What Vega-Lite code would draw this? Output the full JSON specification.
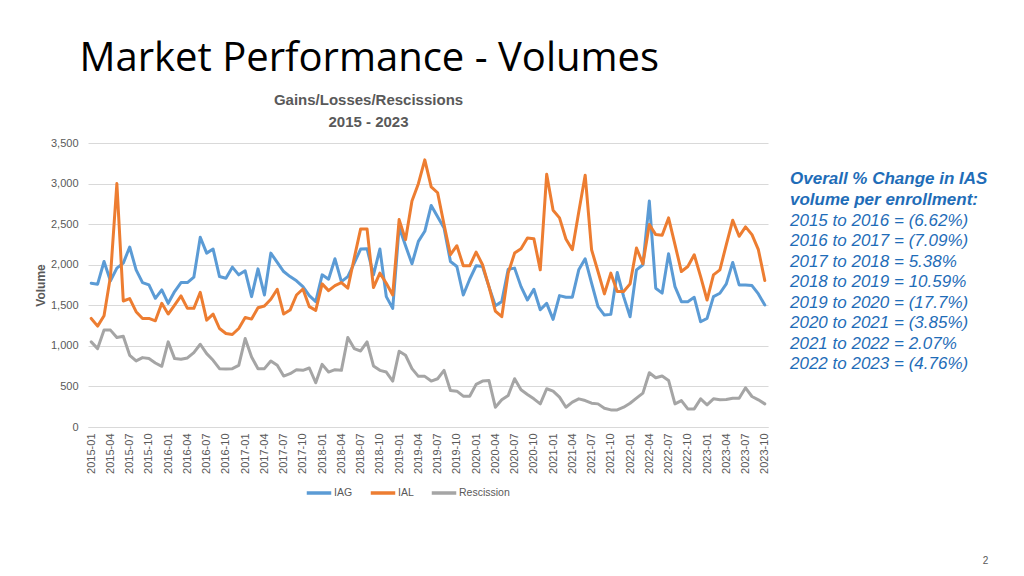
{
  "$schema": "https://vega.github.io/schema/vega-lite/v6.json",
  "autosize": {"type": "none"},
  "width": 680,
  "height": 284,
  "padding": {"left": 88, "top": 143, "right": 256, "bottom": 149},
  "background": "white",
  "config": {"view": {"stroke": null}, "font": "Liberation Sans"},
  "title": {
    "text": ["Overall % Change in IAS", "volume per enrollment:"],
    "subtitle": ["2015 to 2016 =  (6.62%)", "2016 to 2017 =  (7.09%)", "2017 to 2018 =  5.38%", "2018 to 2019  = 10.59%", "2019 to 2020 = (17.7%)", "2020 to 2021 = (3.85%)", "2021 to 2022 = 2.07%", "2022 to 2023 = (4.76%)"],
    "orient": "top",
    "anchor": "start",
    "frame": "group",
    "dx": 702,
    "dy": 335,
    "offset": 0,
    "font": "Liberation Sans",
    "fontSize": 17,
    "fontStyle": "italic",
    "fontWeight": "bold",
    "color": "#1F6DB8",
    "lineHeight": 20.5,
    "subtitleFont": "Liberation Sans",
    "subtitleFontSize": 17,
    "subtitleFontStyle": "italic",
    "subtitleFontWeight": "normal",
    "subtitleColor": "#1F6DB8",
    "subtitleLineHeight": 20.5,
    "subtitlePadding": 4
  },
  "data": {
    "values": [
      {"m": "2015-01", "IAG": 1772, "IAL": 1338, "Rescission": 1049},
      {"m": "2015-02", "IAG": 1760, "IAL": 1243, "Rescission": 966},
      {"m": "2015-03", "IAG": 2040, "IAL": 1371, "Rescission": 1194},
      {"m": "2015-04", "IAG": 1800, "IAL": 1854, "Rescission": 1194},
      {"m": "2015-05", "IAG": 1958, "IAL": 3000, "Rescission": 1103},
      {"m": "2015-06", "IAG": 2020, "IAL": 1553, "Rescission": 1119},
      {"m": "2015-07", "IAG": 2218, "IAL": 1582, "Rescission": 884},
      {"m": "2015-08", "IAG": 1937, "IAL": 1421, "Rescission": 814},
      {"m": "2015-09", "IAG": 1780, "IAL": 1338, "Rescission": 855},
      {"m": "2015-10", "IAG": 1751, "IAL": 1338, "Rescission": 843},
      {"m": "2015-11", "IAG": 1586, "IAL": 1309, "Rescission": 789},
      {"m": "2015-12", "IAG": 1689, "IAL": 1524, "Rescission": 748},
      {"m": "2016-01", "IAG": 1524, "IAL": 1392, "Rescission": 1049},
      {"m": "2016-02", "IAG": 1669, "IAL": 1503, "Rescission": 843},
      {"m": "2016-03", "IAG": 1780, "IAL": 1615, "Rescission": 834},
      {"m": "2016-04", "IAG": 1780, "IAL": 1462, "Rescission": 851},
      {"m": "2016-05", "IAG": 1846, "IAL": 1462, "Rescission": 917},
      {"m": "2016-06", "IAG": 2338, "IAL": 1660, "Rescission": 1020},
      {"m": "2016-07", "IAG": 2143, "IAL": 1317, "Rescission": 904},
      {"m": "2016-08", "IAG": 2193, "IAL": 1392, "Rescission": 822},
      {"m": "2016-09", "IAG": 1854, "IAL": 1214, "Rescission": 719},
      {"m": "2016-10", "IAG": 1834, "IAL": 1152, "Rescission": 715},
      {"m": "2016-11", "IAG": 1970, "IAL": 1140, "Rescission": 719},
      {"m": "2016-12", "IAG": 1875, "IAL": 1214, "Rescission": 760},
      {"m": "2017-01", "IAG": 1925, "IAL": 1350, "Rescission": 1090},
      {"m": "2017-02", "IAG": 1607, "IAL": 1330, "Rescission": 863},
      {"m": "2017-03", "IAG": 1949, "IAL": 1470, "Rescission": 719},
      {"m": "2017-04", "IAG": 1627, "IAL": 1491, "Rescission": 719},
      {"m": "2017-05", "IAG": 2143, "IAL": 1574, "Rescission": 814},
      {"m": "2017-06", "IAG": 2028, "IAL": 1697, "Rescission": 760},
      {"m": "2017-07", "IAG": 1916, "IAL": 1392, "Rescission": 628},
      {"m": "2017-08", "IAG": 1854, "IAL": 1441, "Rescission": 657},
      {"m": "2017-09", "IAG": 1801, "IAL": 1627, "Rescission": 706},
      {"m": "2017-10", "IAG": 1730, "IAL": 1701, "Rescission": 698},
      {"m": "2017-11", "IAG": 1619, "IAL": 1483, "Rescission": 727},
      {"m": "2017-12", "IAG": 1545, "IAL": 1437, "Rescission": 545},
      {"m": "2018-01", "IAG": 1875, "IAL": 1764, "Rescission": 772},
      {"m": "2018-02", "IAG": 1821, "IAL": 1681, "Rescission": 677},
      {"m": "2018-03", "IAG": 2073, "IAL": 1743, "Rescission": 706},
      {"m": "2018-04", "IAG": 1792, "IAL": 1780, "Rescission": 698},
      {"m": "2018-05", "IAG": 1854, "IAL": 1710, "Rescission": 1103},
      {"m": "2018-06", "IAG": 2020, "IAL": 2082, "Rescission": 966},
      {"m": "2018-07", "IAG": 2193, "IAL": 2441, "Rescission": 937},
      {"m": "2018-08", "IAG": 2197, "IAL": 2441, "Rescission": 1049},
      {"m": "2018-09", "IAG": 1875, "IAL": 1718, "Rescission": 752},
      {"m": "2018-10", "IAG": 2193, "IAL": 1896, "Rescission": 698},
      {"m": "2018-11", "IAG": 1607, "IAL": 1772, "Rescission": 677},
      {"m": "2018-12", "IAG": 1462, "IAL": 1627, "Rescission": 566},
      {"m": "2019-01", "IAG": 2466, "IAL": 2556, "Rescission": 933},
      {"m": "2019-02", "IAG": 2234, "IAL": 2309, "Rescission": 884},
      {"m": "2019-03", "IAG": 2011, "IAL": 2784, "Rescission": 719},
      {"m": "2019-04", "IAG": 2288, "IAL": 2998, "Rescission": 624},
      {"m": "2019-05", "IAG": 2412, "IAL": 3292, "Rescission": 624},
      {"m": "2019-06", "IAG": 2730, "IAL": 2960, "Rescission": 566},
      {"m": "2019-07", "IAG": 2590, "IAL": 2887, "Rescission": 595},
      {"m": "2019-08", "IAG": 2453, "IAL": 2495, "Rescission": 698},
      {"m": "2019-09", "IAG": 2040, "IAL": 2123, "Rescission": 450},
      {"m": "2019-10", "IAG": 1978, "IAL": 2234, "Rescission": 442},
      {"m": "2019-11", "IAG": 1627, "IAL": 1987, "Rescission": 380},
      {"m": "2019-12", "IAG": 1821, "IAL": 1987, "Rescission": 380},
      {"m": "2020-01", "IAG": 1987, "IAL": 2156, "Rescission": 525},
      {"m": "2020-02", "IAG": 1978, "IAL": 1999, "Rescission": 566},
      {"m": "2020-03", "IAG": 1730, "IAL": 1730, "Rescission": 574},
      {"m": "2020-04", "IAG": 1495, "IAL": 1429, "Rescission": 244},
      {"m": "2020-05", "IAG": 1545, "IAL": 1359, "Rescission": 335},
      {"m": "2020-06", "IAG": 1945, "IAL": 1896, "Rescission": 388},
      {"m": "2020-07", "IAG": 1958, "IAL": 2143, "Rescission": 595},
      {"m": "2020-08", "IAG": 1730, "IAL": 2197, "Rescission": 458},
      {"m": "2020-09", "IAG": 1565, "IAL": 2329, "Rescission": 401},
      {"m": "2020-10", "IAG": 1697, "IAL": 2321, "Rescission": 347},
      {"m": "2020-11", "IAG": 1445, "IAL": 1937, "Rescission": 285},
      {"m": "2020-12", "IAG": 1524, "IAL": 3114, "Rescission": 471},
      {"m": "2021-01", "IAG": 1326, "IAL": 2672, "Rescission": 442},
      {"m": "2021-02", "IAG": 1619, "IAL": 2577, "Rescission": 368},
      {"m": "2021-03", "IAG": 1600, "IAL": 2317, "Rescission": 244},
      {"m": "2021-04", "IAG": 1600, "IAL": 2185, "Rescission": 306},
      {"m": "2021-05", "IAG": 1937, "IAL": 2650, "Rescission": 347},
      {"m": "2021-06", "IAG": 2073, "IAL": 3103, "Rescission": 326},
      {"m": "2021-07", "IAG": 1772, "IAL": 2185, "Rescission": 293},
      {"m": "2021-08", "IAG": 1483, "IAL": 1916, "Rescission": 285},
      {"m": "2021-09", "IAG": 1379, "IAL": 1640, "Rescission": 231},
      {"m": "2021-10", "IAG": 1388, "IAL": 1896, "Rescission": 211},
      {"m": "2021-11", "IAG": 1904, "IAL": 1669, "Rescission": 211},
      {"m": "2021-12", "IAG": 1607, "IAL": 1669, "Rescission": 244},
      {"m": "2022-01", "IAG": 1359, "IAL": 1764, "Rescission": 293},
      {"m": "2022-02", "IAG": 1937, "IAL": 2205, "Rescission": 355},
      {"m": "2022-03", "IAG": 1999, "IAL": 2011, "Rescission": 417},
      {"m": "2022-04", "IAG": 2784, "IAL": 2495, "Rescission": 669},
      {"m": "2022-05", "IAG": 1710, "IAL": 2371, "Rescission": 607},
      {"m": "2022-06", "IAG": 1650, "IAL": 2363, "Rescission": 628},
      {"m": "2022-07", "IAG": 2135, "IAL": 2577, "Rescission": 574},
      {"m": "2022-08", "IAG": 1730, "IAL": 2247, "Rescission": 285},
      {"m": "2022-09", "IAG": 1545, "IAL": 1916, "Rescission": 326},
      {"m": "2022-10", "IAG": 1545, "IAL": 1978, "Rescission": 223},
      {"m": "2022-11", "IAG": 1598, "IAL": 2123, "Rescission": 223},
      {"m": "2022-12", "IAG": 1297, "IAL": 1854, "Rescission": 347},
      {"m": "2023-01", "IAG": 1338, "IAL": 1565, "Rescission": 273},
      {"m": "2023-02", "IAG": 1607, "IAL": 1875, "Rescission": 347},
      {"m": "2023-03", "IAG": 1648, "IAL": 1937, "Rescission": 335},
      {"m": "2023-04", "IAG": 1764, "IAL": 2247, "Rescission": 339},
      {"m": "2023-05", "IAG": 2028, "IAL": 2548, "Rescission": 355},
      {"m": "2023-06", "IAG": 1751, "IAL": 2350, "Rescission": 355},
      {"m": "2023-07", "IAG": 1751, "IAL": 2466, "Rescission": 483},
      {"m": "2023-08", "IAG": 1743, "IAL": 2371, "Rescission": 376},
      {"m": "2023-09", "IAG": 1640, "IAL": 2185, "Rescission": 335},
      {"m": "2023-10", "IAG": 1503, "IAL": 1805, "Rescission": 285}
    ]
  },
  "transform": [{"fold": ["IAG", "IAL", "Rescission"], "as": ["series", "volume"]}],
  "layer": [
    {
      "mark": {"type": "line", "strokeWidth": 3, "strokeJoin": "round", "strokeCap": "round"},
      "encoding": {
        "x": {
          "field": "m", "type": "ordinal", "sort": null,
          "scale": {"type": "point", "padding": 0.5},
          "axis": {
            "orient": "bottom",
            "values": ["2015-01","2015-04","2015-07","2015-10","2016-01","2016-04","2016-07","2016-10","2017-01","2017-04","2017-07","2017-10","2018-01","2018-04","2018-07","2018-10","2019-01","2019-04","2019-07","2019-10","2020-01","2020-04","2020-07","2020-10","2021-01","2021-04","2021-07","2021-10","2022-01","2022-04","2022-07","2022-10","2023-01","2023-04","2023-07","2023-10"],
            "labelAngle": -90,
            "labelFontSize": 11,
            "labelColor": "#595959",
            "labelPadding": 6,
            "ticks": false,
            "grid": false,
            "domainColor": "#D9D9D9",
            "domainWidth": 1,
            "title": ["Gains/Losses/Rescissions", "2015 - 2023"],
            "titleX": 280,
            "titleY": -323,
            "titleAngle": 0,
            "titleAlign": "center",
            "titleBaseline": "alphabetic",
            "titleFont": "Liberation Sans",
            "titleFontSize": 15,
            "titleFontWeight": "bold",
            "titleColor": "#595959",
            "titleLineHeight": 22
          }
        },
        "y": {
          "field": "volume", "type": "quantitative",
          "scale": {"domain": [0, 3500], "nice": false},
          "axis": {
            "values": [0, 500, 1000, 1500, 2000, 2500, 3000, 3500],
            "format": ",.0f",
            "labelFontSize": 11,
            "labelColor": "#595959",
            "labelPadding": 10,
            "ticks": false,
            "domain": false,
            "grid": true,
            "gridColor": "#D9D9D9",
            "gridWidth": 1,
            "title": "Volume",
            "titleX": -48,
            "titleY": 142,
            "titleAngle": 270,
            "titleAlign": "center",
            "titleBaseline": "middle",
            "titleFont": "Liberation Sans",
            "titleFontSize": 12,
            "titleFontWeight": "bold",
            "titleColor": "#595959"
          }
        },
        "color": {
          "field": "series", "type": "nominal",
          "scale": {"domain": ["IAG", "IAL", "Rescission"], "range": ["#5B9BD5", "#ED7D31", "#A5A5A5"]},
          "legend": {
            "title": null,
            "orient": "none",
            "legendX": 217,
            "legendY": 336,
            "direction": "horizontal",
            "symbolType": "stroke",
            "symbolStrokeWidth": 3.5,
            "symbolSize": 600,
            "labelFontSize": 10.5,
            "labelColor": "#595959",
            "labelOffset": 1,
            "columnPadding": 10
          }
        }
      }
    },
    {
      "mark": {"type": "line", "strokeOpacity": 0},
      "encoding": {
        "x": {
          "field": "m", "type": "ordinal", "sort": null,
          "scale": {"type": "point", "padding": 0.5},
          "axis": {
            "orient": "top", "labels": false, "ticks": false, "domain": false, "grid": false,
            "title": "2",
            "titleX": 897,
            "titleY": 420,
            "titleAngle": 0,
            "titleAlign": "center",
            "titleBaseline": "alphabetic",
            "titleFont": "Liberation Sans",
            "titleFontSize": 10,
            "titleFontWeight": "normal",
            "titleColor": "#595959"
          }
        },
        "y": {
          "field": "volume", "type": "quantitative",
          "scale": {"domain": [0, 3500], "nice": false},
          "axis": {
            "orient": "right", "labels": false, "ticks": false, "domain": false, "grid": false,
            "title": "Market Performance - Volumes",
            "titleX": -689,
            "titleY": -73,
            "titleAngle": 0,
            "titleAlign": "left",
            "titleBaseline": "alphabetic",
            "titleFont": "Open Sans",
            "titleFontSize": 40,
            "titleFontWeight": "normal",
            "titleColor": "#000000"
          }
        },
        "detail": {"field": "series"}
      }
    }
  ],
  "resolve": {"axis": {"x": "independent", "y": "independent"}}
}
